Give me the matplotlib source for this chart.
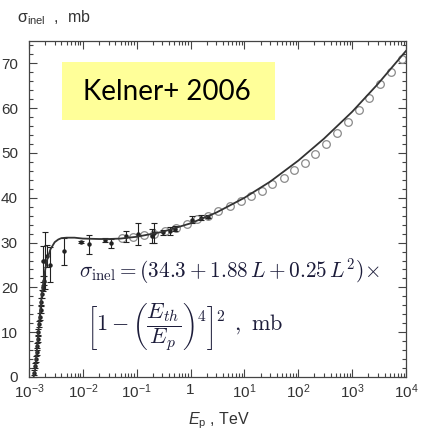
import numpy as np
import matplotlib
matplotlib.use("Agg")
import matplotlib.pyplot as plt
from matplotlib.patches import Rectangle
from matplotlib.ticker import MultipleLocator, LogLocator, NullFormatter

plt.rcParams['font.family'] = ['Liberation Sans', 'DejaVu Sans']
plt.rcParams['mathtext.fontset'] = 'custom'
plt.rcParams['mathtext.rm'] = 'Liberation Sans'
plt.rcParams['mathtext.it'] = 'Liberation Sans:italic'

# parametrisation curve, E in TeV, sigma in mb
curve_E = [1.22e-3, 1.3e-3, 1.4e-3, 1.5e-3, 1.6e-3, 1.7e-3, 1.8e-3, 2.0e-3, 2.2e-3,
           2.5e-3, 3.0e-3, 3.5e-3, 4.0e-3, 5.0e-3, 7.0e-3, 1e-2, 2e-2, 3e-2, 5e-2,
           0.1, 0.3, 1.0, 3.0, 10.0, 30.0, 100.0, 300.0, 1000.0, 3000.0, 1e4]
curve_sig = [0.0, 1.7, 5.9, 10.3, 14.3, 17.5, 20.2, 24.0, 26.4,
             28.5, 30.1, 30.7, 31.0, 31.1, 31.1, 30.9, 30.8, 30.8, 30.9,
             31.3, 32.4, 34.3, 36.7, 40.0, 43.6, 48.3, 53.2, 59.2, 65.4, 72.8]

# accelerator data (filled points with error bars)
acc_E = [1.26e-3, 1.30e-3, 1.34e-3, 1.38e-3, 1.42e-3, 1.46e-3, 1.50e-3, 1.55e-3,
         1.60e-3, 1.65e-3, 1.70e-3, 1.76e-3, 1.82e-3, 1.88e-3,
         1.82e-3, 2.0e-3, 2.15e-3, 2.5e-3, 4.5e-3, 9.2e-3, 0.0128, 0.0257,
         0.034, 0.063, 0.105, 0.19, 0.21, 0.31, 0.41, 0.52, 1.07, 1.55, 2.1]
acc_sig = [1.0, 2.5, 4.0, 5.5, 7.0, 8.5, 10.0, 11.8,
           13.5, 15.0, 16.8, 18.5, 20.2, 21.5,
           25.9, 26.0, 27.0, 25.1, 28.1, 30.1, 29.6, 30.6,
           29.9, 31.4, 31.9, 31.4, 32.1, 32.3, 32.6, 33.1, 35.1, 35.6, 35.8]
acc_err = [0.6, 0.6, 0.6, 0.6, 0.6, 0.7, 0.7, 0.7,
           0.8, 0.8, 0.8, 0.9, 0.9, 1.0,
           3.4, 6.3, 2.5, 4.0, 3.0, 0.3, 2.2, 0.4,
           1.0, 1.2, 2.5, 1.6, 2.2, 0.5, 0.8, 0.6, 0.8, 0.6, 0.4]

# open circles
cr_E = [0.054, 0.085, 0.135, 0.21, 0.34, 0.54, 0.85, 1.32, 2.1, 3.3, 5.4, 8.5,
        13.5, 21, 33, 54, 83, 132, 204, 331, 525, 832, 1318, 2042, 3236, 5248, 8318]
cr_sig = [31.0, 31.3, 31.6, 32.0, 32.7, 33.3, 34.2, 35.3, 36.0, 37.1, 38.2, 39.2,
          40.4, 41.6, 43.0, 44.5, 46.1, 47.8, 49.8, 52.1, 54.5, 57.0, 59.6, 62.3,
          65.3, 68.1, 71.0]

xticks = [1e-3, 1e-2, 1e-1, 1, 1e1, 1e2, 1e3, 1e4]
xticklabels = ['$10^{-3}$', '$10^{-2}$', '$10^{-1}$', '1',
               '$10^{1}$', '$10^{2}$', '$10^{3}$', '$10^{4}$']

W, H = 424, 432
fig = plt.figure(figsize=(W/100, H/100), dpi=100)
ax = fig.add_axes([29/W, 1-377/H, 377/W, 336/H])

ax.plot(cr_E, cr_sig, 'o', mfc='none', mec='#8a8a8a', ms=5.5, mew=0.9, zorder=2)
ax.errorbar(acc_E, acc_sig, yerr=acc_err, fmt='o', color='#222222', ms=2.2,
            elinewidth=0.8, capsize=2, capthick=0.8, zorder=3)
ax.plot(curve_E, curve_sig, '-', color='#333333', lw=1.3, zorder=4)

ax.set_xscale('log')
ax.set_xlim(1e-3, 1e4)
ax.set_ylim(0, 75)
ax.set_xticks(xticks)
ax.set_xticklabels(xticklabels)
ax.xaxis.set_minor_locator(LogLocator(base=10, subs=np.arange(2, 10)))
ax.xaxis.set_minor_formatter(NullFormatter())
ax.yaxis.set_major_locator(MultipleLocator(10))
ax.yaxis.set_minor_locator(MultipleLocator(2))

ax.tick_params(which='both', direction='in', top=True, right=True,
               color='#444444', width=0.8, labelcolor='#333333', labelsize=11)
ax.tick_params(which='major', length=6)
ax.tick_params(which='minor', length=3)
ax.tick_params(axis='y', pad=8)
ax.tick_params(axis='x', pad=4)
for s in ax.spines.values():
    s.set_color('#444444')
    s.set_linewidth(0.9)

fig.text(17/W, 1-18/H, 'σ$_{\\rm inel}$  ,  mb', fontsize=11.5, color='#333333',
         va='center', ha='left')
fig.text(219/W, 1-410/H, r'$E_{\rm p}$ , TeV', fontsize=11.5, color='#333333',
         va='top', ha='center')

# label box
fig.patches.append(Rectangle((62/W, 1-120/H), 213/W, 58/H, transform=fig.transFigure,
                             facecolor='#ffff99', edgecolor='none', zorder=5))
fig.text(167/W, 1-92/H, 'Kelner+ 2006', family='Lato', fontsize=20, color='black',
         ha='center', va='center', zorder=6)

navy = '#1c1c3a'
fig.text(79/W, 1-277/H, r'$\sigma_{\rm inel} = (34.3 + 1.88\,L + 0.25\,L^2)\!\times$',
         fontsize=15.3, math_fontfamily='cm', color=navy, va='baseline', zorder=6)
fig.text(87/W, 1-327/H,
         r'$\left[1 - \left(\dfrac{E_{th}}{E_p}\right)^4\right]^2\;\,,\ \mathrm{mb}$',
         fontsize=16, math_fontfamily='cm', color=navy, va='center', zorder=6)

fig.savefig('out.png', dpi=100)
